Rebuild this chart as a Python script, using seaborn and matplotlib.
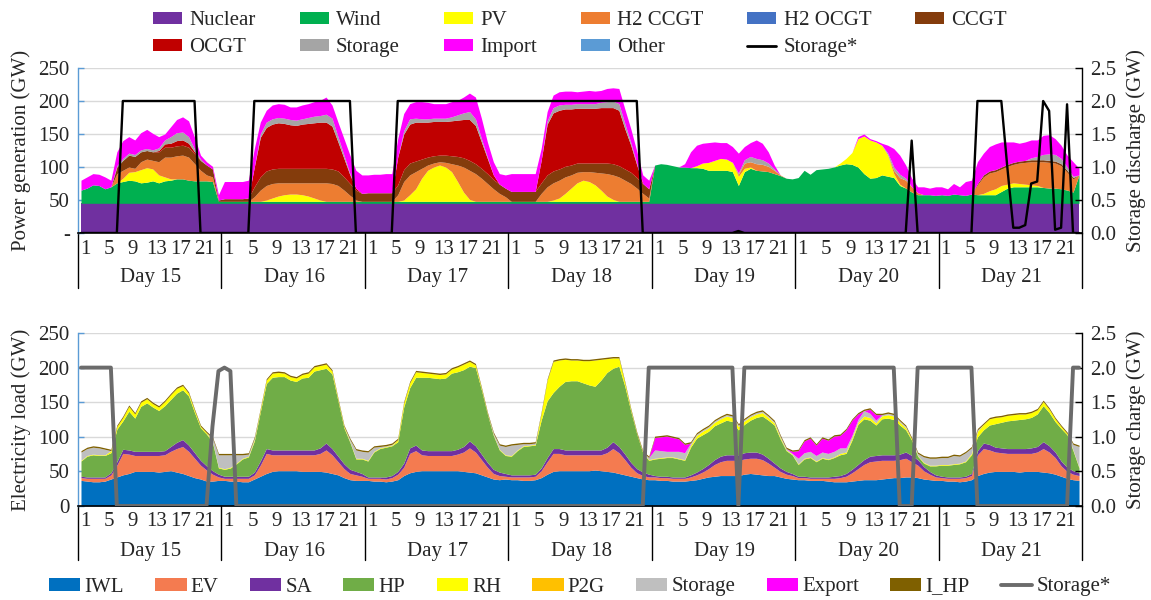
import numpy as np
import matplotlib
matplotlib.use("Agg")
import matplotlib.pyplot as plt
from matplotlib.patches import Patch
from matplotlib.lines import Line2D
import seaborn as sns

# ---------------- categories ----------------
day_labels = ["Day 15", "Day 16", "Day 17", "Day 18", "Day 19", "Day 20", "Day 21"]
hour_labels = [1, 5, 9, 13, 17, 21]

# ---------------- generation (GW), hourly, 7 days ----------------
nuclear = [45] * 168
wind = ([20, 23, 28, 27, 22, 25, 31, 33, 35, 34, 31, 32, 34, 31, 34, 35, 37, 37, 35, 34, 34, 34, 33, 3]
        + [3] * 24 + [3] * 24 + [3] * 24
        + [58, 60, 59, 57, 55, 55, 54, 54, 53, 50, 50, 50, 50, 48, 27, 48, 53, 50, 49, 48, 45, 42, 38, 37]
        + [39, 50, 44, 51, 52, 53, 55, 58, 60, 59, 55, 45, 38, 39, 43, 41, 39, 27, 23, 17, 13, 13, 13, 12]
        + [13, 12, 14, 13, 12, 14, 13, 13, 13, 13, 18, 23, 25, 25, 25, 25, 25, 24, 23, 23, 22, 20, 17, 43])
pv = ([0] * 7 + [5, 12, 14, 20, 22, 18, 12, 6, 2] + [0] * 8
      + [0] * 7 + [2, 5, 8, 10, 11, 11, 10, 8, 5, 2] + [0] * 7
      + [0] * 6 + [2, 10, 19, 35, 47, 52, 55, 52, 45, 30, 14, 3] + [0] * 6
      + [0] * 7 + [2, 5, 12, 20, 28, 32, 30, 25, 17, 8, 3] + [0] * 6
      + [0] * 7 + [3, 8, 12, 15, 18, 17, 14, 14, 5, 2] + [0] * 7
      + [0] * 7 + [3, 8, 18, 43, 57, 58, 54, 45, 32, 6, 2] + [0] * 6
      + [0] * 7 + [2, 6, 9, 9, 6, 6, 5, 4, 3, 2] + [0] * 7)
h2_ccgt = ([0] * 6 + [14, 12, 8, 5, 12, 13, 13, 20, 30, 33, 35, 36, 35, 26, 16, 9, 7, 0]
           + [0] * 5 + [7, 17, 22, 22, 20, 18, 17, 17, 18, 20, 23, 26, 28, 27, 24, 17, 9, 2, 0]
           + [0] * 5 + [10, 28, 30, 26, 15, 8, 6, 5, 7, 12, 25, 38, 44, 42, 35, 27, 19, 12, 7]
           + [0] * 5 + [12, 22, 26, 27, 25, 20, 16, 13, 15, 19, 26, 34, 37, 37, 32, 27, 20, 12, 5]
           + [0] * 14 + [3, 8, 8, 10, 10, 8, 5, 1] + [0] * 2
           + [0] * 16 + [5, 10, 12, 8, 3] + [0] * 3
           + [0] * 6 + [15, 25, 27, 26, 25, 27, 28, 31, 33, 35, 36, 39, 39, 38, 35, 27, 20, 0])
h2_ocgt = [0] * 168
ccgt = ([0] * 6 + [10, 15, 18, 18, 15, 13, 13, 15, 15, 15, 15, 15, 15, 15, 15, 15, 12, 2]
        + [4, 4, 4, 4, 5, 15, 20, 22, 22, 22, 22, 22, 22, 22, 22, 22, 22, 22, 22, 22, 20, 18, 15, 12]
        + [13, 13, 13, 13, 13, 15, 18, 18, 16, 14, 12, 11, 10, 11, 12, 13, 14, 15, 15, 15, 15, 14, 14, 13]
        + [15, 15, 15, 15, 15, 16, 18, 18, 17, 16, 15, 14, 13, 13, 14, 15, 16, 17, 17, 17, 17, 16, 15, 14]
        + [0] * 24 + [0] * 24
        + [0] * 6 + [2] + [3] * 15 + [2, 0])
ocgt = ([0] * 13 + [2, 5, 6, 8, 8, 6, 3] + [0] * 4
        + [0] * 5 + [30, 60, 66, 68, 69, 68, 66, 65, 67, 68, 69, 70, 70, 65, 44, 28, 13, 3, 0]
        + [0] * 5 + [42, 54, 59, 59, 56, 53, 52, 51, 51, 53, 55, 58, 62, 58, 40, 23, 7, 0, 0]
        + [0] * 5 + [34, 77, 88, 89, 87, 85, 83, 83, 83, 83, 84, 84, 85, 84, 61, 41, 19, 0, 0]
        + [0] * 72)
storage_gen = ([0] * 6 + [2, 3, 3, 3, 3, 3, 3, 4, 6, 10, 12, 12, 10, 4, 2] + [0] * 3
               + [0] * 6 + [5, 8, 8, 8, 8, 8, 8, 8, 9, 10, 10, 12, 12, 8, 5, 2] + [0] * 2
               + [0] * 6 + [5, 8, 6, 5, 5, 5, 5, 5, 6, 8, 10, 12, 10, 5, 2] + [0] * 3
               + [0] * 6 + [5, 8, 8, 7, 7, 7, 7, 7, 7, 8, 9, 10, 10, 8, 4, 2] + [0] * 2
               + [0] * 14 + [2, 5, 8, 8, 7, 5, 2] + [0] * 3
               + [0] * 15 + [3, 5, 5, 3] + [0] * 5
               + [0] * 15 + [3, 5, 8, 10, 10, 8, 5, 2] + [0])
imports = ([15, 17, 17, 17, 18, 10, 21, 27, 25, 22, 26, 29, 25, 17, 9, 15, 20, 23, 24, 18, 6, 5, 4, 8]
           + [26, 26, 26, 26, 27, 28, 18, 18, 21, 21, 21, 19, 20, 21, 21, 22, 23, 26, 20, 22, 25, 28, 27, 28]
           + [27, 28, 28, 29, 29, 28, 26, 23, 25, 26, 25, 22, 22, 22, 23, 22, 24, 28, 33, 31, 23, 20, 16, 20]
           + [27, 27, 27, 27, 27, 18, 14, 19, 20, 20, 20, 18, 19, 20, 19, 18, 20, 20, 23, 22, 21, 19, 13, 13]
           + [0, 0, 0, 0, 0, 5, 24, 31, 30, 30, 28, 24, 25, 24, 30, 20, 21, 28, 25, 17, 6, 0, 0, 0]
           + [0] * 10 + [3, 3, 2, 2, 3, 12, 28, 29, 20, 13, 9, 12, 10, 13]
           + [12, 10, 16, 12, 21, 21, 33, 33, 37, 39, 38, 34, 31, 27, 28, 27, 25, 29, 29, 24, 20, 18, 22, 10])
other = [0] * 168
storage_discharge = ([0] * 7 + [2.0] * 13 + [0] * 4
                     + [0] * 5 + [2.0] * 17 + [0] * 2
                     + [0] * 5 + [2.0] * 19
                     + [2.0] * 22 + [0] * 2
                     + [0] * 14 + [0.03] + [0] * 9
                     + [0] * 19 + [1.4] + [0] * 4
                     + [0] * 6 + [2.0] * 5 + [1.0, 0.08, 0.08, 0.12, 0.75, 0.78, 2.0, 1.85, 0.05, 0.08, 1.95, 0, 0])

# ---------------- load (GW), hourly, 7 days ----------------
iwl = ([37, 36, 35, 35, 36, 39, 42, 45, 47, 50, 50, 50, 50, 49, 50, 51, 49, 47, 44, 41, 39, 36, 36, 37]
       + [37, 36, 36, 35, 35, 39, 43, 47, 50, 51, 51, 51, 51, 50, 50, 50, 50, 49, 47, 45, 41, 38, 37, 37]
       + [37, 36, 36, 35, 36, 38, 44, 48, 50, 51, 51, 51, 51, 51, 51, 51, 50, 49, 48, 45, 42, 39, 38, 39]
       + [38, 38, 37, 37, 38, 41, 46, 50, 51, 51, 51, 51, 51, 51, 52, 51, 50, 49, 47, 45, 43, 41, 39, 38]
       + [38, 37, 37, 36, 36, 36, 37, 38, 40, 42, 43, 44, 44, 44, 44, 46, 47, 46, 45, 44, 44, 42, 40, 39]
       + [38, 38, 37, 37, 37, 36, 35, 35, 35, 36, 37, 38, 38, 38, 39, 40, 41, 41, 42, 42, 41, 39, 38, 37]
       + [37, 36, 36, 35, 36, 38, 44, 47, 49, 50, 50, 50, 50, 49, 50, 50, 50, 49, 48, 46, 43, 40, 38, 37])
ev = ([4, 4, 5, 5, 4, 6, 17, 31, 28, 23, 23, 23, 23, 24, 24, 28, 34, 39, 35, 28, 20, 16, 10, 5]
      + [3, 4, 4, 5, 5, 6, 16, 29, 24, 23, 23, 23, 23, 24, 24, 24, 26, 32, 27, 19, 13, 9, 8, 6]
      + [3, 4, 4, 4, 5, 8, 12, 28, 30, 23, 22, 22, 22, 22, 22, 24, 28, 35, 30, 22, 14, 8, 6, 4]
      + [4, 4, 5, 5, 5, 10, 18, 26, 25, 23, 23, 23, 23, 23, 22, 23, 27, 34, 30, 22, 13, 7, 5, 4]
      + [4, 4, 4, 4, 4, 4, 5, 7, 9, 12, 17, 20, 22, 22, 22, 22, 22, 23, 22, 18, 12, 8, 6, 5]
      + [3, 3, 3, 3, 3, 4, 5, 6, 8, 12, 17, 22, 26, 27, 27, 26, 25, 26, 27, 22, 18, 12, 8, 5]
      + [4, 4, 4, 5, 5, 6, 30, 36, 32, 28, 27, 26, 26, 27, 26, 26, 28, 34, 30, 24, 15, 10, 8, 7])
sa = ([2, 2, 2, 2, 2, 3, 5, 6, 6, 6, 6, 6, 6, 6, 6, 7, 9, 10, 9, 8, 7, 6, 5, 4]
      + [3, 3, 3, 3, 3, 4, 6, 7, 7, 7, 7, 7, 7, 7, 7, 7, 8, 10, 9, 8, 7, 6, 5, 4]
      + [2, 2, 2, 3, 3, 4, 6, 8, 8, 7, 7, 7, 7, 7, 7, 7, 8, 10, 9, 8, 7, 6, 5, 4]
      + [3, 3, 3, 3, 3, 4, 6, 7, 7, 7, 7, 7, 7, 7, 7, 7, 8, 10, 9, 8, 7, 6, 5, 4]
      + [2, 2, 2, 2, 2, 2, 3, 4, 5, 6, 7, 8, 8, 8, 8, 9, 9, 9, 8, 7, 6, 5, 4, 3]
      + [2, 2, 2, 2, 2, 2, 3, 3, 4, 5, 6, 7, 8, 8, 8, 8, 8, 8, 9, 9, 8, 6, 4, 3]
      + [2, 2, 2, 2, 2, 3, 6, 8, 8, 7, 7, 7, 7, 7, 7, 8, 8, 10, 9, 8, 7, 6, 5, 4])
hp = ([22, 30, 32, 31, 31, 29, 47, 41, 56, 48, 65, 70, 64, 59, 65, 68, 71, 72, 71, 58, 47, 46, 41, 9]
      + [10, 12, 18, 25, 28, 45, 71, 94, 105, 106, 106, 101, 99, 104, 105, 114, 113, 108, 108, 80, 52, 39, 18, 21]
      + [23, 36, 41, 43, 43, 43, 81, 87, 98, 105, 106, 105, 104, 105, 112, 112, 111, 108, 113, 93, 70, 49, 32, 26]
      + [27, 35, 41, 42, 42, 69, 82, 81, 90, 99, 100, 100, 97, 94, 92, 101, 108, 106, 116, 98, 74, 50, 28, 20]
      + [24, 26, 27, 28, 26, 24, 40, 49, 49, 48, 49, 48, 50, 48, 36, 41, 46, 50, 55, 55, 55, 42, 30, 27]
      + [17, 25, 28, 22, 27, 25, 27, 30, 29, 42, 58, 59, 52, 44, 52, 53, 51, 42, 32, 22, 5, 5, 8, 13]
      + [16, 17, 18, 19, 21, 27, 20, 19, 28, 34, 37, 40, 41, 42, 43, 44, 47, 52, 48, 44, 47, 47, 29, 7])
rh = ([1, 1, 1, 1, 1, 3, 4, 5, 7, 6, 6, 6, 5, 5, 6, 7, 7, 6, 4, 3, 2, 2, 1, 1]
      + [1, 1, 1, 1, 1, 2, 3, 5, 6, 6, 5, 5, 5, 5, 6, 6, 6, 6, 4, 2, 2, 1, 1, 1]
      + [1, 1, 1, 1, 1, 3, 6, 7, 8, 7, 6, 6, 6, 6, 6, 7, 8, 7, 4, 2, 1, 1, 1, 1]
      + [1, 1, 1, 1, 1, 10, 30, 45, 38, 32, 30, 30, 32, 35, 38, 30, 20, 15, 12, 5, 2, 1, 1, 1]
      + [1, 1, 1, 1, 1, 1, 3, 4, 5, 5, 5, 6, 6, 6, 5, 5, 5, 5, 5, 4, 3, 2, 1, 1]
      + [1, 1, 1, 1, 1, 1, 1, 2, 2, 3, 3, 4, 4, 3, 4, 5, 5, 4, 3, 2, 1, 1, 1, 1]
      + [1, 1, 1, 1, 1, 2, 8, 8, 9, 9, 8, 8, 8, 8, 7, 7, 6, 6, 5, 4, 3, 2, 1, 1])
p2g = [0] * 168
storage_load = ([12, 10, 10, 10, 8] + [0] * 17 + [5, 18]
                + [20, 18, 12, 5, 3, 2] + [0] * 15 + [3, 12, 10]
                + [12, 6, 2, 1, 1] + [0] * 16 + [2, 6, 12]
                + [15, 8, 3, 2, 2] + [0] * 18 + [3]
                + [12, 10, 8, 8, 10, 10, 3] + [2] * 16 + [1]
                + [8, 8, 8, 8, 8, 8, 8, 8, 6, 4, 4, 8, 6, 4, 2, 2, 2, 2, 2, 0, 3, 8, 10, 10]
                + [10, 10, 12, 10, 12, 8, 2] + [0] * 15 + [8, 30])
export = ([0] * 96
          + [18, 20, 22, 20, 18, 12] + [0] * 17 + [3]
          + [11, 17, 19, 15, 20, 19, 22, 18, 26, 22, 8, 0, 6, 8] + [0] * 10
          + [0] * 24)
i_hp = [2] * 168
storage_charge = ([2.0] * 6 + [0] * 16 + [1.15, 1.95]
                  + [2.0, 1.95] + [0] * 22
                  + [0] * 24
                  + [0] * 23 + [2.0]
                  + [2.0] * 14 + [0] + [2.0] * 9
                  + [2.0] * 17 + [0] * 3 + [2.0] * 4
                  + [2.0] * 6 + [0] * 16 + [2.0] * 2)

gen_names = ["Nuclear", "Wind", "PV", "H2 CCGT", "H2 OCGT", "CCGT", "OCGT", "Storage", "Import", "Other"]
gen_colors = ["#7030A0", "#00B050", "#FFFF00", "#ED7D31", "#4472C4", "#843C0C", "#C00000",
              "#A5A5A5", "#FF00FF", "#5B9BD5"]
load_names = ["IWL", "EV", "SA", "HP", "RH", "P2G", "Storage", "Export", "I_HP"]
load_colors = ["#0070C0", "#F47B50", "#7030A0", "#70AD47", "#FFFF00", "#FFC000", "#BFBFBF",
               "#FF00FF", "#7F6000"]

gen_stack = [nuclear, wind, pv, h2_ccgt, h2_ocgt, ccgt, ocgt, storage_gen, imports, other]
load_stack = [iwl, ev, sa, hp, rh, p2g, storage_load, export, i_hp]
for s in gen_stack + load_stack + [storage_discharge, storage_charge]:
    assert len(s) == 168, len(s)

# ---------------- plotting ----------------
sns.set_theme(style="white")
plt.rcParams['font.family'] = ['Liberation Serif', 'DejaVu Serif']
FS = 15

W, H = 1151, 600
fig = plt.figure(figsize=(W / 100, H / 100), dpi=100)
ax1 = fig.add_axes([78 / W, 1 - 233 / H, 1004 / W, 165 / H])
ax3 = fig.add_axes([78 / W, 1 - 506 / H, 1004 / W, 173 / H])
x = np.arange(168)

ax1.stackplot(x, *[np.array(s, float) for s in gen_stack], colors=gen_colors, linewidth=0)
ax3.stackplot(x, *[np.array(s, float) for s in load_stack], colors=load_colors, linewidth=0)

ax2 = ax1.twinx()
sns.lineplot(x=x, y=np.array(storage_discharge), ax=ax2, color="black", linewidth=1.7, legend=False)
ax4 = ax3.twinx()
sns.lineplot(x=x, y=np.array(storage_charge), ax=ax4, color="#6B6B6B", linewidth=2.8, legend=False)


def format_panel(ax, axr, zero_lbl, ylab, rylab, hour_y, day_y, sep_y):
    ax.set_xlim(-0.5, 167.5)
    ax.set_ylim(0, 250)
    ax.set_yticks([0, 50, 100, 150, 200, 250])
    ax.set_yticklabels([zero_lbl, "50", "100", "150", "200", "250"])
    ax.set_xticks([])
    ax.grid(axis="y", color="#D9D9D9", linewidth=1.0)
    ax.set_axisbelow(True)
    ax.tick_params(axis="y", direction="in", length=4, width=1, color="#5B9BD5",
                   labelsize=FS, pad=6, left=True)
    ax.spines["left"].set_color("#5B9BD5")
    ax.spines["left"].set_linewidth(1.0)
    ax.spines["top"].set_visible(False)
    ax.spines["right"].set_visible(False)
    ax.spines["bottom"].set_color("black")
    ax.spines["bottom"].set_linewidth(1.2)
    ax.set_ylabel(ylab, fontsize=FS, labelpad=5)

    axr.set_xlim(-0.5, 167.5)
    axr.set_ylim(0, 2.5)
    rt = [0.0, 0.5, 1.0, 1.5, 2.0, 2.5]
    axr.set_yticks(rt)
    axr.set_yticklabels([f"{v:.1f}" for v in rt])
    axr.grid(False)
    axr.tick_params(axis="y", direction="in", length=5, width=1, color="black",
                    labelsize=FS, pad=6, right=True)
    for sp in ["left", "top", "bottom"]:
        axr.spines[sp].set_visible(False)
    axr.spines["right"].set_color("black")
    axr.spines["right"].set_linewidth(1.0)
    axr.set_xlabel("")
    axr.set_ylabel(rylab, fontsize=FS, labelpad=7)

    xt = ax.get_xaxis_transform()
    for d, dl in enumerate(day_labels):
        for h in hour_labels:
            ax.text(d * 24 + h - 1 + 0.7, hour_y, str(h), transform=xt, ha="center",
                    va="center", fontsize=FS)
        ax.text(d * 24 + 11.7, day_y, dl, transform=xt, ha="center", va="center", fontsize=FS)
    for d in range(len(day_labels) + 1):
        xs = d * 24 - 0.5
        ax.plot([xs, xs], [0, sep_y], transform=xt, color="black", lw=1.0, clip_on=False)


format_panel(ax1, ax2, "-", "Power generation (GW)", "Storage discharge (GW)", -0.097, -0.267, -0.333)
format_panel(ax3, ax4, "0", "Electricity load (GW)", "Storage charge (GW)", -0.091, -0.264, -0.312)

# legends
top_handles = [Patch(facecolor=c, edgecolor="none", label=n) for n, c in zip(gen_names, gen_colors)]
top_handles.append(Line2D([], [], color="black", lw=2, label="Storage*"))
order = [0, 6, 1, 7, 2, 8, 3, 9, 4, 10, 5]
fig.legend(handles=[top_handles[i] for i in order], loc="upper center",
           bbox_to_anchor=(580 / W, 1 - 11 / H), ncol=6, frameon=False, fontsize=FS,
           handlelength=1.4, handleheight=0.5, handletextpad=0.35, columnspacing=2.1,
           labelspacing=0.4, borderpad=0, borderaxespad=0)

bot_handles = [Patch(facecolor=c, edgecolor="none", label=n) for n, c in zip(load_names, load_colors)]
bot_handles.append(Line2D([], [], color="#6B6B6B", lw=2.8, label="Storage*"))
fig.legend(handles=bot_handles, loc="center", bbox_to_anchor=(580 / W, 1 - 587 / H), ncol=10,
           frameon=False, fontsize=FS, handlelength=1.5, handleheight=0.6, handletextpad=0.2,
           columnspacing=1.5, borderpad=0, borderaxespad=0)

fig.savefig("out.png", dpi=100)
